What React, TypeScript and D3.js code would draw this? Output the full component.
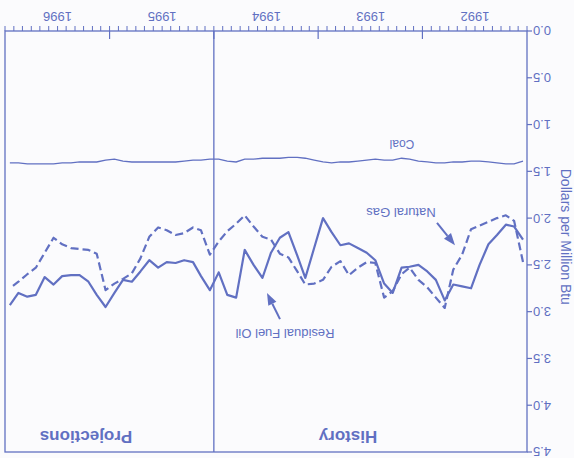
import React from 'react';
import * as d3 from 'd3';

// Monthly prices, Jan 1992 - Dec 1996 (dollars per million Btu)
const residualFuelOil = [
  2.23, 2.09, 2.07, 2.18, 2.28, 2.5, 2.75, 2.73, 2.71, 2.88, 2.66, 2.57,
  2.5, 2.52, 2.53, 2.8, 2.7, 2.45, 2.37, 2.32, 2.27, 2.29, 2.15, 2.0,
  2.32, 2.64, 2.4, 2.15, 2.21, 2.37, 2.64, 2.5, 2.34, 2.85, 2.82, 2.58,
  2.77, 2.62, 2.47, 2.45, 2.48, 2.47, 2.53, 2.45, 2.57, 2.68, 2.66, 2.8,
  2.95, 2.82, 2.68, 2.61, 2.61, 2.62, 2.71, 2.63, 2.82, 2.84, 2.8, 2.93,
];
const naturalGas = [
  2.47, 2.03, 1.97, 2.0, 2.04, 2.08, 2.12, 2.39, 2.55, 2.96, 2.85, 2.74,
  2.66, 2.53, 2.6, 2.78, 2.85, 2.48, 2.47, 2.53, 2.61, 2.46, 2.52, 2.66,
  2.7, 2.71, 2.57, 2.42, 2.38, 2.23, 2.2, 2.09, 1.97, 2.06, 2.14, 2.25,
  2.39, 2.13, 2.1, 2.16, 2.18, 2.13, 2.1, 2.2, 2.43, 2.59, 2.65, 2.7,
  2.77, 2.38, 2.34, 2.33, 2.32, 2.28, 2.21, 2.37, 2.53, 2.6, 2.68, 2.75,
];
const coal = [
  1.39, 1.42, 1.42, 1.41, 1.4, 1.39, 1.39, 1.4, 1.4, 1.41, 1.41, 1.4,
  1.39, 1.37, 1.36, 1.38, 1.38, 1.37, 1.38, 1.39, 1.4, 1.4, 1.41, 1.4,
  1.38, 1.36, 1.35, 1.35, 1.36, 1.36, 1.36, 1.37, 1.37, 1.4, 1.39, 1.37,
  1.37, 1.38, 1.38, 1.39, 1.4, 1.4, 1.4, 1.4, 1.4, 1.4, 1.39, 1.37,
  1.38, 1.4, 1.4, 1.4, 1.41, 1.41, 1.42, 1.42, 1.42, 1.42, 1.41, 1.41,
];
const yearLabels = ['1992', '1993', '1994', '1995', '1996'];
const yTicks = [0, 0.5, 1.0, 1.5, 2.0, 2.5, 3.0, 3.5, 4.0, 4.5];

const W = 574;
const H = 458;
const INK = '#6170c2';
const FONT = '"Liberation Sans", Arial, sans-serif';

function Arrow({ x1, y1, x2, y2 }: { x1: number; y1: number; x2: number; y2: number }) {
  // tail (x1,y1) -> tip (x2,y2)
  const len = Math.hypot(x2 - x1, y2 - y1);
  const ux = (x2 - x1) / len;
  const uy = (y2 - y1) / len;
  const headLen = 12;
  const half = 4.5;
  const bx = x2 - ux * headLen;
  const by = y2 - uy * headLen;
  const pts = [
    [x2, y2],
    [bx - uy * half, by + ux * half],
    [bx + uy * half, by - ux * half],
  ];
  return (
    <g>
      <line x1={x1} y1={y1} x2={bx} y2={by} stroke={INK} strokeWidth={2} />
      <polygon points={pts.map(p => p.join(',')).join(' ')} fill={INK} />
    </g>
  );
}

export default function App() {
  const left = 47, right = 569, top = 6, bottom = 427;

  const x = d3.scaleTime()
    .domain([new Date(1992, 0, 1), new Date(1997, 0, 1)])
    .range([left, right]);
  const y = d3.scaleLinear().domain([0, 4.5]).range([bottom, top]);

  const dates = residualFuelOil.map((_, i) => new Date(1992, i, 15));
  const line = d3.line<number>()
    .x((_, i) => x(dates[i]))
    .y(d => y(d));

  const monthTicks = x.ticks(d3.timeMonth.every(1));
  const yearTicks = [1993, 1994, 1995, 1996].map(yr => new Date(yr, 0, 1));
  const divider = x(new Date(1995, 0, 1));

  return (
    <svg width={W} height={H} style={{ position: 'absolute', left: 0, top: 0, background: '#fbfbfd' }}>
      {/* the reference page is printed upside down */}
      <g transform={`rotate(180 ${W / 2} ${H / 2})`} fontFamily={FONT} fill={INK}>
        <rect x={left} y={top} width={right - left} height={bottom - top}
          fill="none" stroke={INK} strokeWidth={1.3} />
        <line x1={divider} x2={divider} y1={top} y2={bottom} stroke={INK} strokeWidth={1.3} />

        {/* x axis */}
        {monthTicks.map((d, i) => (
          <line key={'m' + i} x1={x(d)} x2={x(d)} y1={bottom} y2={bottom + 5} stroke={INK} strokeWidth={1} />
        ))}
        {yearTicks.map((d, i) => (
          <line key={'yt' + i} x1={x(d)} x2={x(d)} y1={bottom} y2={bottom - 8} stroke={INK} strokeWidth={1.2} />
        ))}
        {yearLabels.map((lab, i) => (
          <text key={lab} x={x(new Date(1992 + i, 6, 1))} y={bottom + 16} textAnchor="middle"
            dominantBaseline="middle" fontSize={13}>{lab}</text>
        ))}

        {/* y axis */}
        {yTicks.map(t => (
          <g key={t}>
            <line x1={left - 5} x2={left} y1={y(t)} y2={y(t)} stroke={INK} strokeWidth={1.2} />
            <text x={left - 6} y={y(t)} dy="0.35em" textAnchor="end" fontSize={13}>{t.toFixed(1)}</text>
          </g>
        ))}
        <text transform={`translate(9,${y(2.2)}) rotate(-90)`} textAnchor="middle"
          dominantBaseline="middle" fontSize={14}>Dollars per Million Btu</text>

        {/* series */}
        <path d={line(coal) || ''} fill="none" stroke={INK} strokeWidth={1.3} />
        <path d={line(residualFuelOil) || ''} fill="none" stroke={INK} strokeWidth={2.2} strokeLinejoin="round" />
        <path d={line(naturalGas) || ''} fill="none" stroke={INK} strokeWidth={2.2}
          strokeDasharray="8,4" strokeLinejoin="round" />

        {/* annotations */}
        <text x={172} y={y(1.2)} textAnchor="middle" dominantBaseline="middle" fontSize={12}>Coal</text>
        <text x={173} y={y(1.93)} textAnchor="middle" dominantBaseline="middle" fontSize={13}>Natural Gas</text>
        <Arrow x1={137} y1={y(2.05)} x2={119} y2={y(2.29)} />
        <text x={289} y={y(3.22)} textAnchor="middle" dominantBaseline="middle" fontSize={13}>Residual Fuel Oil</text>
        <Arrow x1={294} y1={y(3.08)} x2={307} y2={y(2.8)} />

        <text x={226} y={y(4.32)} textAnchor="middle" dominantBaseline="middle" fontSize={17} fontWeight="bold">History</text>
        <text x={488} y={y(4.32)} textAnchor="middle" dominantBaseline="middle" fontSize={17} fontWeight="bold">Projections</text>
      </g>
    </svg>
  );
}
